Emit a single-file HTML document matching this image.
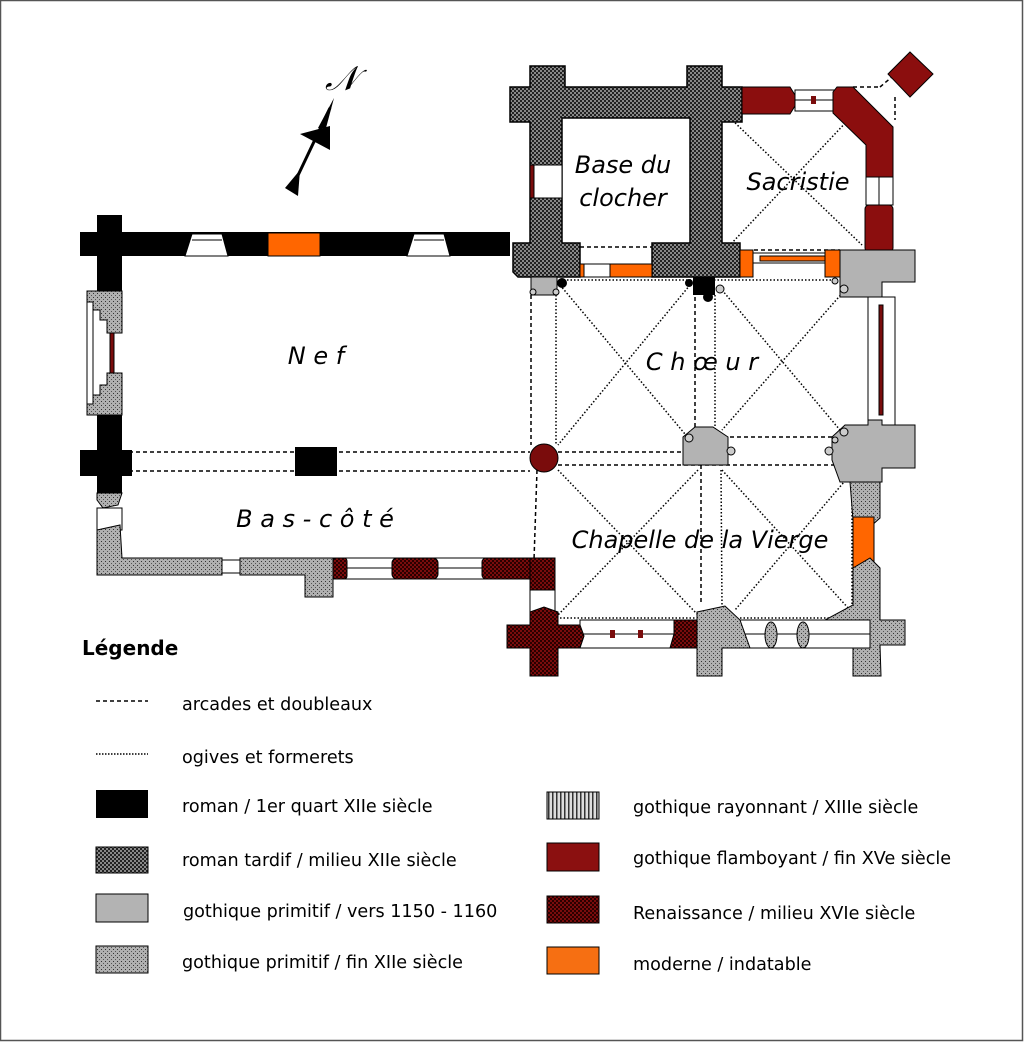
<!DOCTYPE html>
<html><head><meta charset="utf-8"><style>
html,body{margin:0;padding:0;background:#fff}
svg{display:block}
text{font-family:"DejaVu Sans","Liberation Sans",sans-serif}
.lab{font-style:italic;font-size:24px}
</style></head><body>
<svg width="1024" height="1042" viewBox="0 0 1024 1042" xmlns="http://www.w3.org/2000/svg">
<defs>
<pattern id="chk" width="4" height="4" patternUnits="userSpaceOnUse"><rect width="4" height="4" fill="#888"/><rect width="2" height="2" fill="#222"/><rect x="2" y="2" width="2" height="2" fill="#222"/></pattern>
<pattern id="dot" width="4" height="4" patternUnits="userSpaceOnUse"><rect width="4" height="4" fill="#b0b0b0"/><rect x="1" y="1" width="1" height="1" fill="#333"/><rect x="3" y="3" width="1" height="1" fill="#555"/></pattern>
<pattern id="ren" width="4" height="4" patternUnits="userSpaceOnUse"><rect width="4" height="4" fill="#7a0c0c"/><rect width="2" height="2" fill="#2a0000"/><rect x="2" y="2" width="2" height="2" fill="#2a0000"/></pattern>
<pattern id="ray" width="4" height="4" patternUnits="userSpaceOnUse"><rect width="4" height="4" fill="#ddd"/><rect width="1.5" height="4" fill="#333"/></pattern>
</defs>
<rect x="0.5" y="0.5" width="1022" height="1040" fill="#fff" stroke="#555" stroke-width="1.5"/>

<line x1="292" y1="188" x2="330" y2="108" stroke="#000" stroke-width="3"/>
<polygon points="334,98 318,128 326,128" fill="#000"/>
<polygon points="300,134 330,126 330,150" fill="#000"/>
<polygon points="285,188 300,170 298,196" fill="#000"/>
<text x="325" y="90" font-size="34" font-style="italic" font-family="Liberation Serif,serif">𝒩</text>

<g stroke="#000" stroke-width="1.5" stroke-dasharray="4,3" fill="none">
<line x1="122" y1="452" x2="530" y2="452"/>
<line x1="122" y1="471" x2="530" y2="471"/>
<line x1="531" y1="295" x2="531" y2="445"/>
<line x1="537" y1="470" x2="534" y2="560"/>
<line x1="558" y1="452" x2="685" y2="452"/>
<line x1="558" y1="465" x2="850" y2="465"/>
<line x1="730" y1="437" x2="832" y2="437"/>
<line x1="695" y1="290" x2="695" y2="430"/>
<line x1="701" y1="465" x2="701" y2="605"/>
<line x1="580" y1="247" x2="652" y2="247"/>
<line x1="754" y1="250" x2="840" y2="250"/>
<line x1="853" y1="87" x2="880" y2="87"/>
<line x1="880" y1="87" x2="893" y2="76"/>
<line x1="895" y1="97" x2="895" y2="120"/>
</g>
<g stroke="#000" stroke-width="1.5" stroke-dasharray="1.5,2" fill="none">
<line x1="560" y1="285" x2="690" y2="440"/>
<line x1="690" y1="285" x2="558" y2="445"/>
<line x1="722" y1="290" x2="840" y2="430"/>
<line x1="845" y1="290" x2="722" y2="430"/>
<line x1="558" y1="470" x2="698" y2="615"/>
<line x1="698" y1="470" x2="558" y2="615"/>
<line x1="722" y1="470" x2="850" y2="610"/>
<line x1="850" y1="475" x2="735" y2="610"/>
<line x1="730" y1="118" x2="862" y2="245"/>
<line x1="850" y1="118" x2="730" y2="245"/>
<line x1="560" y1="280" x2="840" y2="280"/>
<line x1="556" y1="295" x2="556" y2="445"/>
<line x1="715" y1="295" x2="715" y2="430"/>
<line x1="721" y1="470" x2="722" y2="605"/>
<line x1="852" y1="480" x2="852" y2="605"/>
<line x1="740" y1="618" x2="830" y2="618"/>
<line x1="560" y1="618" x2="698" y2="618"/>
</g>

<rect x="80" y="232" width="430" height="24" fill="#000"/>
<polygon points="192,234 222,234 228,256 185,256" fill="#fff" stroke="#000"/>
<polygon points="414,234 444,234 450,256 407,256" fill="#fff" stroke="#000"/>
<line x1="192" y1="240" x2="222" y2="240" stroke="#000"/>
<line x1="414" y1="240" x2="444" y2="240" stroke="#000"/>
<rect x="268" y="233" width="52" height="23" fill="#f60" stroke="#000"/>
<rect x="97" y="215" width="25" height="77" fill="#000"/>
<polygon points="87,291 122,291 122,333 107,333 107,320 100,320 100,310 92,310 92,302 87,302" fill="url(#dot)" stroke="#000"/>
<polygon points="87,415 122,415 122,373 107,373 107,385 100,385 100,395 92,395 92,404 87,404" fill="url(#dot)" stroke="#000"/>
<rect x="87" y="302" width="6" height="102" fill="#fff" stroke="#000"/>
<rect x="110" y="333" width="4" height="40" fill="#7a0c0c" stroke="#000"/>
<rect x="97" y="415" width="25" height="80" fill="#000"/>
<rect x="80" y="450" width="52" height="26" fill="#000"/>
<rect x="295" y="447" width="42" height="29" fill="#000"/>
<polygon points="97,493 122,493 118,505 103,508 97,500" fill="url(#dot)" stroke="#000"/>
<rect x="97" y="508" width="25" height="22" fill="#fff" stroke="#000"/>
<polygon points="97,530 120,525 122,558 222,558 222,575 97,575" fill="url(#dot)" stroke="#000"/>
<polygon points="240,558 333,558 333,597 305,597 305,575 240,575" fill="url(#dot)" stroke="#000"/>
<rect x="222" y="560" width="18" height="13" fill="#fff" stroke="#000"/>
<rect x="333" y="558" width="200" height="21" fill="#fff" stroke="#000"/>
<line x1="345" y1="568" x2="533" y2="568" stroke="#000"/>
<rect x="333" y="558" width="14" height="21" fill="url(#ren)" stroke="#000" rx="3"/>
<rect x="392" y="558" width="46" height="21" fill="url(#ren)" stroke="#000" rx="5"/>
<rect x="482" y="558" width="52" height="21" fill="url(#ren)" stroke="#000" rx="4"/>
<polygon points="530,558 555,558 555,590 543,595 530,590" fill="url(#ren)" stroke="#000"/>
<rect x="530" y="590" width="25" height="25" fill="#fff" stroke="#000"/>

<polygon points="510,87 530,87 530,66 565,66 565,87 687,87 687,66 722,66 722,87 742,87 742,122 722,122 722,243 740,243 740,277 652,277 652,243 690,243 690,118 562,118 562,243 580,243 580,277 518,277 513,272 513,243 530,243 530,205 530,160 530,122 510,122" fill="url(#chk)" stroke="#000" stroke-width="1.5"/>
<rect x="530" y="165" width="32" height="33" fill="#fff" stroke="#000"/>
<rect x="530" y="165" width="4" height="33" fill="#7a0c0c" stroke="#000"/>
<rect x="580" y="264" width="72" height="13" fill="#fff" stroke="#000"/>
<rect x="610" y="264" width="42" height="13" fill="#f60" stroke="#000"/>
<rect x="580" y="264" width="4" height="13" fill="#f60" stroke="#000"/>
<circle cx="562" cy="283" r="5" fill="#000"/>
<rect x="531" y="277" width="26" height="18" fill="#b3b3b3" stroke="#000"/>
<circle cx="533" cy="292" r="3" fill="#ccc" stroke="#000"/>
<circle cx="556" cy="292" r="3" fill="#ccc" stroke="#000"/>

<polygon points="742,87 790,87 795,95 795,106 790,114 742,114" fill="#8b0e0e" stroke="#000"/>
<rect x="795" y="90" width="40" height="21" fill="#fff" stroke="#000"/>
<line x1="795" y1="100" x2="835" y2="100" stroke="#000"/>
<rect x="811" y="96" width="5" height="8" fill="#7a0c0c"/>
<polygon points="837,87 853,87 893,127 893,177 866,177 866,145 833,113 833,92" fill="#8b0e0e" stroke="#000"/>
<rect x="866" y="177" width="27" height="28" fill="#fff" stroke="#000"/>
<line x1="879" y1="177" x2="879" y2="205" stroke="#000"/>
<rect x="865" y="205" width="28" height="47" fill="#8b0e0e" stroke="#000" rx="4"/>
<polygon points="910,52 933,74 910,97 888,74" fill="#8b0e0e" stroke="#000"/>
<rect x="740" y="250" width="13" height="27" fill="#f60" stroke="#000"/>
<rect x="753" y="253" width="72" height="10" fill="#fff" stroke="#000"/>
<rect x="760" y="256" width="65" height="5" fill="#f60" stroke="#000"/>
<rect x="825" y="250" width="15" height="27" fill="#f60" stroke="#000"/>

<polygon points="840,250 915,250 915,282 882,282 882,297 840,297" fill="#b3b3b3" stroke="#000"/>
<rect x="868" y="297" width="27" height="128" fill="#fff" stroke="#000"/>
<rect x="879" y="305" width="4" height="110" fill="#7a0c0c" stroke="#000"/>
<polygon points="832,437 845,425 868,425 868,420 882,420 882,425 915,425 915,468 882,468 882,482 840,482 832,460" fill="#b3b3b3" stroke="#000"/>
<polygon points="850,482 880,482 880,518 870,527 856,527 853,520" fill="url(#dot)" stroke="#000"/>
<rect x="853" y="517" width="21" height="51" fill="#f60" stroke="#000"/>
<polygon points="853,568 870,558 880,568 880,620 905,620 905,645 880,645 881,676 853,676 853,645 825,645 825,620 853,605" fill="url(#dot)" stroke="#000"/>
<polygon points="683,437 695,427 713,427 728,437 728,465 683,465" fill="#b3b3b3" stroke="#000"/>
<circle cx="689" cy="438" r="4" fill="#ccc" stroke="#000"/>
<circle cx="731" cy="451" r="4" fill="#ccc" stroke="#000"/>
<circle cx="829" cy="451" r="4" fill="#ccc" stroke="#000"/>
<circle cx="844" cy="432" r="4" fill="#ccc" stroke="#000"/>
<circle cx="835" cy="440" r="3" fill="#ccc" stroke="#000"/>
<circle cx="844" cy="289" r="4" fill="#ccc" stroke="#000"/>
<circle cx="835" cy="281" r="3" fill="#ccc" stroke="#000"/>
<circle cx="720" cy="289" r="4" fill="#ccc" stroke="#000"/>
<rect x="693" y="277" width="22" height="18" fill="#000"/>
<circle cx="708" cy="297" r="5" fill="#000"/>
<circle cx="689" cy="283" r="4" fill="#000"/>
<circle cx="544" cy="458" r="14" fill="#7a0c0c" stroke="#000"/>

<rect x="580" y="620" width="290" height="28" fill="#fff" stroke="#000"/>
<line x1="580" y1="634" x2="870" y2="634" stroke="#000"/>
<rect x="610" y="630" width="5" height="8" fill="#7a0c0c"/><rect x="638" y="630" width="5" height="8" fill="#7a0c0c"/>
<polygon points="507,625 530,625 530,612 544,607 558,612 558,625 580,625 584,636 580,648 558,648 558,676 530,676 530,648 507,648" fill="url(#ren)" stroke="#000"/>
<polygon points="674,620 697,620 697,648 670,648 674,634" fill="url(#ren)" stroke="#000"/>
<polygon points="697,612 725,606 740,620 750,648 722,648 722,676 697,676" fill="url(#dot)" stroke="#000"/>
<ellipse cx="771" cy="635" rx="6" ry="13" fill="url(#dot)" stroke="#000"/>
<ellipse cx="803" cy="635" rx="6" ry="13" fill="url(#dot)" stroke="#000"/>

<text class="lab" x="623" y="173" text-anchor="middle">Base du</text>
<text class="lab" x="623" y="206" text-anchor="middle">clocher</text>
<text class="lab" x="798" y="190" text-anchor="middle">Sacristie</text>
<text class="lab" x="316" y="364" text-anchor="middle">N e f</text>
<text class="lab" x="702" y="370" text-anchor="middle">C h œ u r</text>
<text class="lab" x="315" y="527" text-anchor="middle">B a s - c ô t é</text>
<text class="lab" x="700" y="548" text-anchor="middle">Chapelle de la Vierge</text>

<text x="82" y="655" font-size="20" font-weight="bold">Légende</text>
<line x1="96" y1="701" x2="148" y2="701" stroke="#000" stroke-width="1.5" stroke-dasharray="4,3"/>
<line x1="96" y1="754" x2="148" y2="754" stroke="#000" stroke-width="1.5" stroke-dasharray="1.5,1.5"/>
<rect x="96" y="790" width="52" height="28" fill="#000"/>
<rect x="96" y="847" width="52" height="26" fill="url(#chk)" stroke="#000"/>
<rect x="96" y="894" width="52" height="28" fill="#b3b3b3" stroke="#000"/>
<rect x="96" y="946" width="52" height="27" fill="url(#dot)" stroke="#000"/>
<rect x="547" y="792" width="52" height="27" fill="url(#ray)" stroke="#000"/>
<rect x="547" y="843" width="52" height="28" fill="#8b1010" stroke="#000"/>
<rect x="547" y="896" width="52" height="27" fill="url(#ren)" stroke="#000"/>
<rect x="547" y="947" width="52" height="27" fill="#f66f12" stroke="#000"/>
<g font-size="17.6">
<text x="182" y="710">arcades et doubleaux</text>
<text x="182" y="763">ogives et formerets</text>
<text x="182" y="812">roman / 1er quart XIIe siècle</text>
<text x="182" y="866">roman tardif / milieu XIIe siècle</text>
<text x="183" y="917">gothique primitif / vers 1150 - 1160</text>
<text x="182" y="968">gothique primitif / fin XIIe siècle</text>
<text x="633" y="813">gothique rayonnant / XIIIe siècle</text>
<text x="633" y="864">gothique flamboyant / fin XVe siècle</text>
<text x="633" y="919">Renaissance / milieu XVIe siècle</text>
<text x="633" y="970">moderne / indatable</text>
</g>
</svg>
</body></html>
